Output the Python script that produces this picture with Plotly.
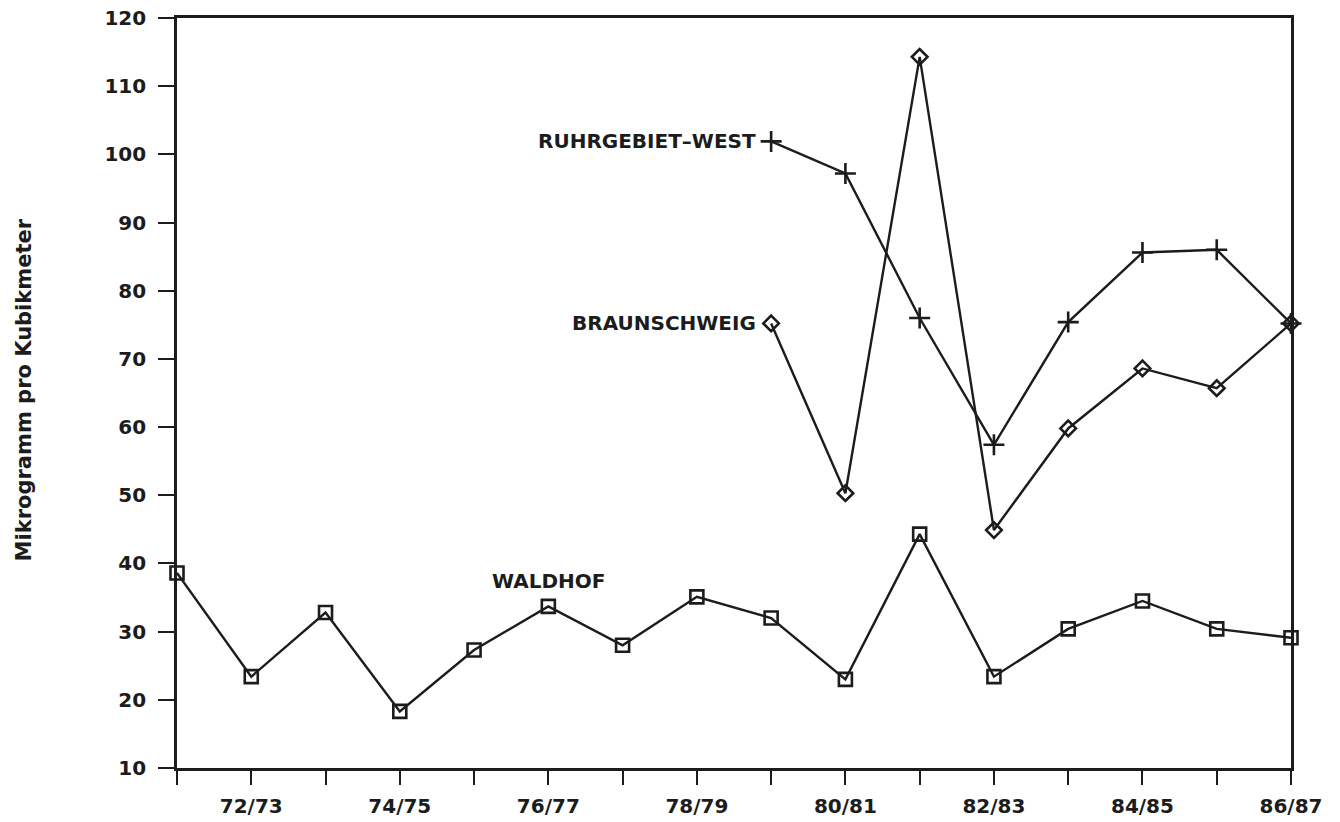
import plotly.graph_objects as go

# Winter seasons on the x axis
seasons = ["71/72", "72/73", "73/74", "74/75", "75/76", "76/77", "77/78", "78/79",
           "79/80", "80/81", "81/82", "82/83", "83/84", "84/85", "85/86", "86/87"]
season_ticks = ["", "72/73", "", "74/75", "", "76/77", "", "78/79",
                "", "80/81", "", "82/83", "", "84/85", "", "86/87"]

# Concentration in micrograms per cubic metre
waldhof = [38.6, 23.4, 32.8, 18.3, 27.3, 33.7, 28.0, 35.1,
           32.0, 23.0, 44.3, 23.4, 30.4, 34.5, 30.4, 29.1]
braunschweig = [None, None, None, None, None, None, None, None,
                75.2, 50.3, 114.3, 44.9, 59.8, 68.6, 65.7, 75.2]
ruhrgebiet_west = [None, None, None, None, None, None, None, None,
                   101.9, 97.2, 76.0, 57.4, 75.4, 85.6, 86.0, 75.2]

y_ticks = list(range(10, 121, 10))

INK = "#1c1c1c"
FONT = "DejaVu Sans"

fig = go.Figure()

fig.add_trace(go.Scatter(
    x=seasons, y=waldhof, mode="lines+markers", name="WALDHOF",
    line=dict(color=INK, width=2.4),
    marker=dict(symbol="square-open", size=13, color=INK, line=dict(width=2.6)),
    cliponaxis=False,
))
fig.add_trace(go.Scatter(
    x=seasons, y=braunschweig, mode="lines+markers", name="BRAUNSCHWEIG",
    line=dict(color=INK, width=2.4),
    marker=dict(symbol="diamond-open", size=12, color=INK, line=dict(width=2.6)),
    cliponaxis=False,
))
fig.add_trace(go.Scatter(
    x=seasons, y=ruhrgebiet_west, mode="lines+markers", name="RUHRGEBIET-WEST",
    line=dict(color=INK, width=2.4),
    marker=dict(symbol="cross-thin-open", size=15, color=INK, line=dict(width=2.6, color=INK)),
    cliponaxis=False,
))

label_font = dict(family=FONT, size=20, color=INK, weight="bold")

# Series labels next to their first points
first = seasons[8]
fig.add_annotation(x=first, y=ruhrgebiet_west[8], text="RUHRGEBIET\u2013WEST",
                   showarrow=False, xanchor="right", yanchor="middle", xshift=-13,
                   font=label_font)
fig.add_annotation(x=first, y=braunschweig[8], text="BRAUNSCHWEIG",
                   showarrow=False, xanchor="right", yanchor="middle", xshift=-13,
                   font=label_font)
fig.add_annotation(x=seasons[5], y=waldhof[5], text="WALDHOF",
                   showarrow=False, xanchor="center", yanchor="middle", yshift=25,
                   font=label_font)

# Rotated y-axis title
fig.add_annotation(x=-0.137, y=0.504, xref="paper", yref="paper",
                   text="Mikrogramm pro Kubikmeter", textangle=-90,
                   showarrow=False, xanchor="center", yanchor="middle",
                   font=dict(family=FONT, size=21, color=INK, weight="bold"))

tick_font = dict(family=FONT, size=20, color=INK, weight="bold")

fig.update_xaxes(
    type="category", range=[0, len(seasons) - 1],
    tickmode="array", tickvals=seasons, ticktext=season_ticks,
    ticks="outside", ticklen=14, tickwidth=2.2, tickcolor=INK,
    showline=True, linecolor=INK, linewidth=2.6, mirror=True,
    showgrid=False, zeroline=False, ticklabelstandoff=4,
    automargin=False, tickfont=tick_font,
)
fig.update_yaxes(
    range=[10, 120], tickmode="array", tickvals=y_ticks,
    ticks="outside", ticklen=16, tickwidth=2.2, tickcolor=INK,
    showline=True, linecolor=INK, linewidth=2.6, mirror=True,
    showgrid=False, zeroline=False, ticklabelstandoff=8,
    automargin=False, tickfont=tick_font,
)

fig.update_layout(
    width=1340, height=822,
    margin=dict(l=177, r=49, t=18, b=54, autoexpand=False),
    paper_bgcolor="white", plot_bgcolor="white",
    showlegend=False,
)

fig.write_html("out.html")
